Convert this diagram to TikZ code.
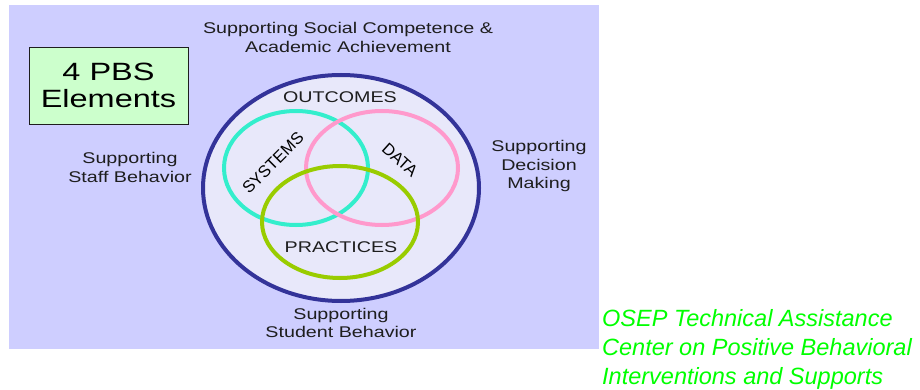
\documentclass[tikz,border=0pt]{standalone}
\usepackage{fontspec}
\setmainfont{Liberation Sans}
\definecolor{bglav}{RGB}{206,206,255}
\definecolor{inlav}{RGB}{232,232,250}
\definecolor{navy}{RGB}{51,51,153}
\definecolor{syscol}{RGB}{51,238,204}
\definecolor{datcol}{RGB}{255,153,204}
\definecolor{praccol}{RGB}{153,204,0}
\definecolor{boxgreen}{RGB}{204,255,204}
\definecolor{txt}{RGB}{30,30,30}
\definecolor{osep}{RGB}{0,255,0}
\tikzset{
  lbl/.style={font=\fontsize{15.5}{18.5}\selectfont, text=txt, align=center, inner sep=0pt, xscale=1.27},
  ring/.style={line width=4pt},
}
\begin{document}
\begin{tikzpicture}[x=1pt,y=-1pt]
\useasboundingbox (0,0) rectangle (920,390);
\fill[white] (0,0) rectangle (920,390);
\fill[bglav] (9,5) rectangle (599,349);
% outer circle
\draw[ring, navy, fill=inlav] (341,188) ellipse [x radius=138, y radius=113];
\draw[ring, syscol] (296,168) ellipse [x radius=72, y radius=57];
\draw[ring, datcol] (382,168) ellipse [x radius=76, y radius=57];
\draw[ring, praccol] (340,222) ellipse [x radius=78, y radius=56];
% title box
\node[draw=txt, line width=1.2pt, fill=boxgreen, minimum width=159pt, minimum height=77pt, anchor=north west] (box) at (29,47) {};
\node[font=\fontsize{25}{27.5}\selectfont, text=black, align=center, inner sep=0pt, xscale=1.3] (title) at (108.5,85.5) {4 PBS\\Elements};
% labels
\node[lbl] (top) at (348,37.5) {Supporting Social Competence \&\\Academic Achievement};
\node[lbl] (staff) at (130,167.5) {Supporting\\Staff Behavior};
\node[lbl] (dec) at (539,166) {Supporting\\Decision\\Making};
\node[lbl] (stud) at (341,323) {Supporting\\Student Behavior};
\node[lbl] (out) at (340,97) {OUTCOMES};
\node[lbl] (prac) at (341,247) {PRACTICES};
\node[font=\fontsize{16.5}{18}\selectfont, text=black, inner sep=0pt, rotate=45] (sys) at (273,163) {SYSTEMS};
\node[font=\fontsize{16.5}{18}\selectfont, text=black, inner sep=0pt, rotate=-42] (dat) at (400,160) {DATA};
% credit
\node[font=\fontsize{23.5}{29}\selectfont\itshape, text=osep, align=left, anchor=north west, inner sep=0pt] (osep) at (602,309) {OSEP Technical Assistance\\Center on Positive Behavioral\\Interventions and Supports};
\end{tikzpicture}
\end{document}
